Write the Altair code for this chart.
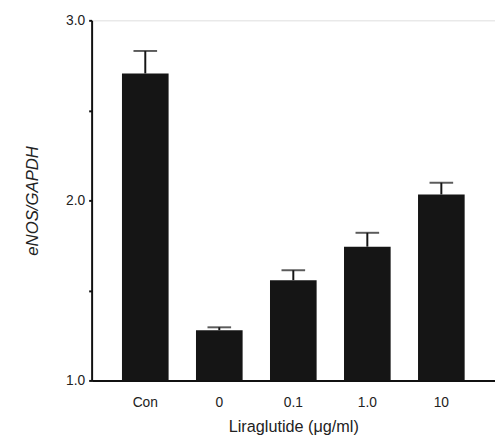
import altair as alt
import pandas as pd

groups = ["Con", "0", "0.1", "1.0", "10"]
means = [2.705, 1.279, 1.557, 1.743, 2.033]
err_top = [2.83, 1.295, 1.612, 1.82, 2.098]

df = pd.DataFrame({"group": groups, "mean": means, "top": err_top})

FONT = "Liberation Sans"

x = alt.X(
    "group:N",
    sort=groups,
    scale=alt.Scale(paddingInner=0.37, paddingOuter=0.41),
    axis=alt.Axis(
        title="Liraglutide (μg/ml)",
        labelAngle=0,
        ticks=False,
        labelPadding=16,
        labelFontSize=14,
        labelFont=FONT,
        labelColor="#222",
        titleFontSize=16.5,
        titleFont=FONT,
        titleFontWeight="normal",
        titleColor="#222",
        titlePadding=9,
        domainColor="#111",
        domainWidth=2,
    ),
)

y_scale = alt.Scale(domain=[1, 3], nice=False, zero=False)
y_axis = alt.Axis(
    title="eNOS/GAPDH",
    values=[1, 1.5, 2, 2.5, 3],
    labelExpr="datum.value % 1 == 0 ? format(datum.value, '.1f') : ''",
    grid=False,
    tickSize=3,
    tickWidth=2,
    tickColor="#111",
    domainColor="#111",
    domainWidth=2,
    labelPadding=4,
    labelFontSize=14,
    labelFont=FONT,
    labelColor="#222",
    titleFontSize=17,
    titleFont=FONT,
    titleFontStyle="italic",
    titleFontWeight="normal",
    titleColor="#222",
    titlePadding=25,
)

bars = alt.Chart(df).mark_bar(color="#151515").encode(
    x=x,
    y=alt.Y("mean:Q", scale=y_scale, axis=y_axis),
    y2=alt.datum(1),
)

stems = alt.Chart(df).mark_rule(color="#151515", strokeWidth=2).encode(
    x=alt.X("group:N", sort=groups),
    y="mean:Q",
    y2="top:Q",
)

caps = alt.Chart(df).mark_tick(color="#151515", size=24, thickness=2, orient="horizontal").encode(
    x=alt.X("group:N", sort=groups),
    y="top:Q",
)

chart = (
    alt.layer(bars, stems, caps)
    .properties(
        width=410,
        height=366,
        autosize=alt.AutoSizeParams(type="none"),
        padding={"left": 85, "top": 9, "right": 0, "bottom": 57},
    )
    .configure_view(stroke=None)
    .configure(background="white")
)

chart.save("out.html", embed_options={"renderer": "svg", "actions": False})
